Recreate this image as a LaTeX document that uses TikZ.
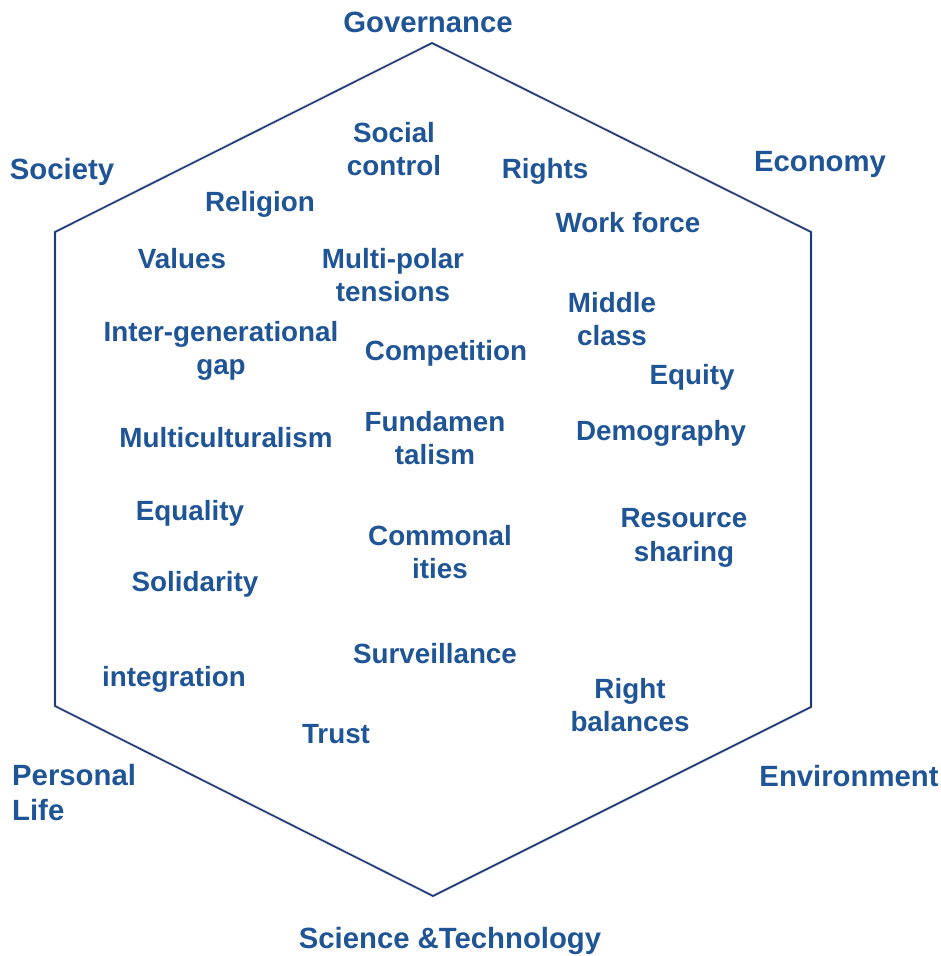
\documentclass[tikz,border=0pt]{standalone}
\usepackage{fontspec}
\setmainfont{Liberation Sans}
\definecolor{txtblue}{HTML}{1F5596}
\definecolor{hexblue}{HTML}{1F3A7A}
\begin{document}
\begin{tikzpicture}[x=1pt,y=-1pt,
  lbl/.style={text=txtblue,font=\fontsize{27.8}{33.5}\selectfont\bfseries,align=center,inner sep=0pt},
  outer/.style={lbl,font=\fontsize{29.3}{35}\selectfont\bfseries},
  hexline/.style={draw=hexblue,line width=1.6pt,line join=miter},
  hexshadow/.style={draw=black!12,line width=3pt,line join=miter}]
\useasboundingbox (0,0) rectangle (940,956);
% hexagon corners
\coordinate (t) at (432,43);
\coordinate (ur) at (811,232);
\coordinate (lr) at (811,707);
\coordinate (b) at (433,896);
\coordinate (ll) at (55,706);
\coordinate (ul) at (55,232);
\begin{scope}[shift={(3,4)}]
\draw[hexshadow] (t) -- (ur) -- (lr) -- (b) -- (ll) -- (ul) -- cycle;
\end{scope}
\draw[hexline] (t) -- (ur) -- (lr) -- (b) -- (ll) -- (ul) -- cycle;
% outer labels
\node[outer] (gov) at (428,22) {Governance};
\node[outer] (soc) at (62,172) {Society};
\node[outer] (eco) at (820,164) {Economy};
\node[outer,align=left,anchor=west] (pers) at (12,793) {Personal\\Life};
\node[outer] (env) at (849,776) {Environment};
\node[outer] (sci) at (450,941) {Science \&Technology};
% inner labels
\node[lbl] (sc) at (394,149) {Social\\control};
\node[lbl] (rights) at (545,171) {Rights};
\node[lbl] (rel) at (260,204) {Religion};
\node[lbl] (work) at (628,223) {Work force};
\node[lbl] (val) at (182,259) {Values};
\node[lbl] (multi) at (393,275) {Multi-polar\\tensions};
\node[lbl] (mid) at (612,319) {Middle\\class};
\node[lbl] (inter) at (221,351) {Inter-generational\\gap};
\node[lbl] (comp) at (446,353) {Competition};
\node[lbl] (equity) at (692,377) {Equity};
\node[lbl] (fund) at (435,438) {Fundamen\\talism};
\node[lbl] (mcult) at (226,438) {Multiculturalism};
\node[lbl] (demo) at (661,433) {Demography};
\node[lbl] (equal) at (190,513) {Equality};
\node[lbl] (res) at (684,538) {Resource\\sharing};
\node[lbl] (common) at (440,552) {Commonal\\ities};
\node[lbl] (solid) at (195,584) {Solidarity};
\node[lbl] (surv) at (435,654) {Surveillance};
\node[lbl] (integ) at (174,679) {integration};
\node[lbl] (rb) at (630,705) {Right\\balances};
\node[lbl] (trust) at (336,734) {Trust};
\end{tikzpicture}
\end{document}
